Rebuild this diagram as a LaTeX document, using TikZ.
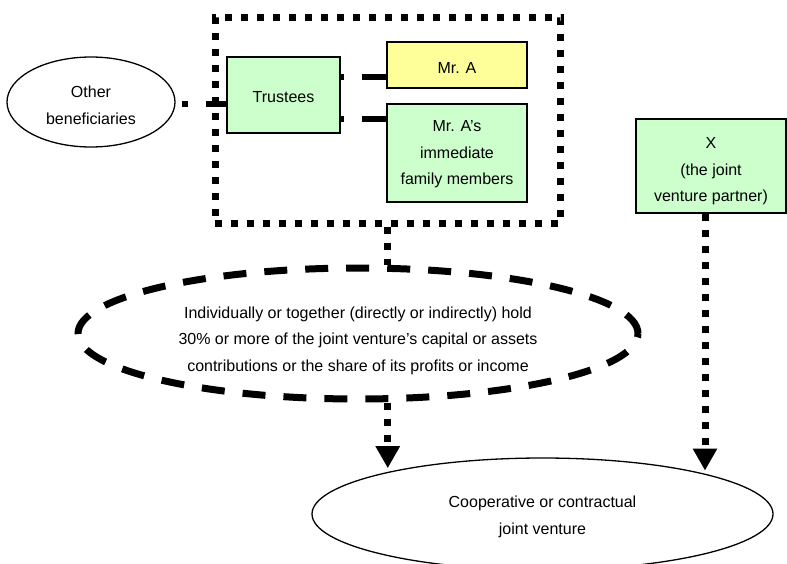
\documentclass[tikz,border=0pt]{standalone}
\usepackage{fontspec}
\setmainfont{Liberation Sans}
\usetikzlibrary{shapes.geometric,arrows.meta,calc}
\definecolor{boxgreen}{HTML}{CCFFCC}
\definecolor{boxyellow}{HTML}{FFFF99}
% struts fixing the top of the first line and the bottom of the last line
\newcommand{\headroom}[1]{\rule{0pt}{#1pt}}
\newcommand{\footroom}{\rule[-4pt]{0pt}{4pt}}
\begin{document}
\begin{tikzpicture}[x=1pt,y=-1pt,
  every node/.style={font=\fontsize{16}{26.5}\selectfont, align=center, inner sep=0pt},
  box/.style={draw, line width=1.3pt, rectangle},
  oval/.style={draw, line width=1.3pt, ellipse},
  group/.style={draw, line width=7pt, dash pattern=on 7pt off 9pt},
  tie/.style={line width=6pt},
  dotline/.style={line width=7pt, dash pattern=on 7pt off 9pt},
  headarrow/.style={dotline, -{Triangle[width=23pt,length=22pt]}},
]
\useasboundingbox (0,0) rectangle (787,563);
\clip (0,0) rectangle (787,563);

% the trust group
\node[group, minimum width=345.5pt, minimum height=205.5pt] (grp) at (387.75,120.25) {};
\node[box, fill=boxgreen, minimum width=113pt, minimum height=76pt] (tru) at (283.5,95)
  {\headroom{18}Trustees\footroom};
\node[box, fill=boxyellow, minimum width=140pt, minimum height=46pt] (mra) at (457,65)
  {\headroom{20}Mr. A\footroom};
\node[box, fill=boxgreen, minimum width=140pt, minimum height=98pt] (fam) at (457,153)
  {\headroom{14}Mr. A’s\\immediate\\family members\footroom};

% other parties
\node[oval, minimum width=168pt, minimum height=90pt] (oth) at (91,102)
  {\headroom{22}Other\\beneficiaries\footroom};
\node[box, fill=boxgreen, minimum width=150pt, minimum height=94pt] (xjv) at (711,166)
  {\headroom{22}X\\(the joint\\venture partner)\footroom};

% holding condition and the joint venture
\node[oval, line width=7pt, dash pattern=on 23pt off 18pt, minimum width=560pt, minimum height=131pt] (big) at (358,333.5)
  {\headroom{26}Individually or together (directly or indirectly) hold\\30\% or more of the joint venture’s capital or assets\\contributions or the share of its profits or income\footroom};
\node[oval, minimum width=461pt, minimum height=112pt] (jv) at (542.5,514)
  {\headroom{18}Cooperative or contractual\\joint venture\footroom};

% links inside the group
\coordinate (tA) at ($(tru.east)+(0,-18)$);
\coordinate (tF) at ($(tru.east)+(0,24)$);
\coordinate (tO) at ($(tru.west)+(0,9)$);
\draw[tie, dash pattern=on 24pt off 18pt] (mra.west |- tA) -- (tA);
\draw[tie, dash pattern=on 24pt off 18pt] (fam.west |- tF) -- (tF);
\draw[tie, dash pattern=on 20pt off 18pt on 6pt off 30pt] (tO) -- (oth.east |- tO);

% links down to the joint venture
\draw[dotline] (grp.south) -- (grp.south |- big.north);
\draw[headarrow, shorten >=4pt] (grp.south |- big.south) -- (grp.south |- jv.165);
\coordinate (xa) at ($(xjv.south)+(-6,0)$);
\draw[headarrow, shorten >=3pt] (xa) -- (xa |- jv.14);
\end{tikzpicture}
\end{document}
